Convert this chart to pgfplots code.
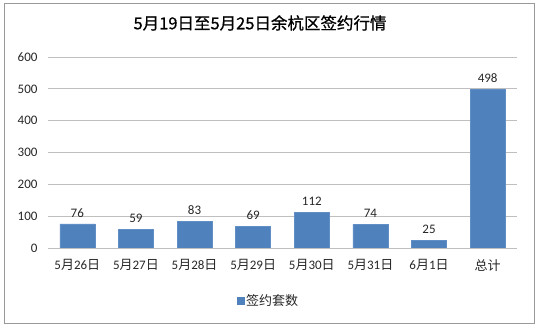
\documentclass[border=0pt]{standalone}
\usepackage{pgfplots}
\pgfplotsset{compat=1.18}
\usepackage{fontspec}
\setmainfont{Carlito}
\newfontfamily\cjk{Noto Sans CJK SC}
\newfontfamily\cjktitle[FakeBold=0.8]{Noto Sans CJK SC}
\definecolor{barblue}{HTML}{4F81BD}
\definecolor{gridgray}{HTML}{BFBFBF}
\definecolor{txt}{HTML}{262626}
\newcommand{\Y}{{\cjk 月}}
\newcommand{\D}{{\cjk 日}}
\begin{document}
\begin{tikzpicture}
\path[use as bounding box] (0,0) rectangle (538pt,328pt);
\draw[gray!80, line width=1pt] (4pt,4pt) rectangle (534pt,324pt);
\node[font=\cjktitle\fontsize{16.5}{19}\selectfont, text=black] at (260pt,305pt) {5月19日至5月25日余杭区签约行情};
\begin{axis}[
  at={(48pt,80pt)}, anchor=south west,
  scale only axis, width=469pt, height=191pt,
  ymin=0, ymax=600, ytick={0,100,...,600},
  xmin=-0.5, xmax=7.5, xtick={0,...,7},
  xticklabels={5\Y26\D,5\Y27\D,5\Y28\D,5\Y29\D,5\Y30\D,5\Y31\D,6\Y1\D,{\cjk 总计}},
  /pgf/number format/assume math mode=true,
  ymajorgrids, grid style={gridgray, line width=0.8pt},
  axis x line*=bottom, axis y line*=left,
  x axis line style={gridgray, line width=0.8pt, -},
  y axis line style={draw=none},
  major tick length=0pt,
  tick label style={font=\fontsize{13}{15}\selectfont, text=txt},
  yticklabel style={xshift=-7pt},
  xticklabel style={yshift=-8pt},
  bar width=35pt,
  nodes near coords,
  nodes near coords style={font=\fontsize{13}{15}\selectfont, text=txt, yshift=3pt},
  legend style={at={(0.47,-0.278)}, anchor=center, draw=none, fill=none,
    font=\cjk\fontsize{13}{15}\selectfont, text=txt},
  legend image code/.code={\fill[barblue] (0pt,-3.5pt) rectangle (7pt,3.5pt);},
]
\addplot[ybar, fill=barblue, draw=barblue!90!white] coordinates {
(0,76) (1,59) (2,83) (3,69) (4,112) (5,74) (6,25) (7,498)};
\addlegendentry{签约套数}
\end{axis}
\end{tikzpicture}
\end{document}
